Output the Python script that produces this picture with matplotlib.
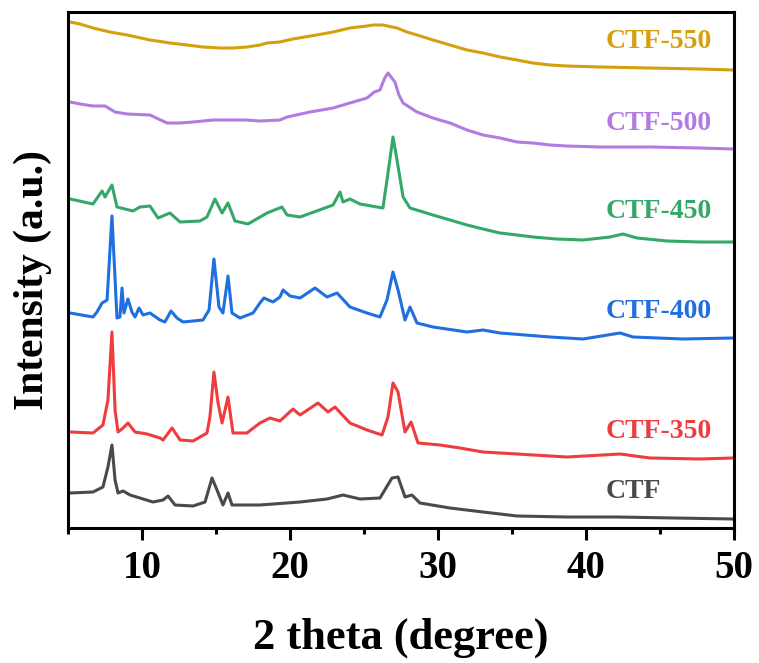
import matplotlib.pyplot as plt
from matplotlib.ticker import MultipleLocator

plt.rcParams["font.family"] = ["Liberation Serif", "DejaVu Serif"]
plt.rcParams["font.weight"] = "bold"

# --------------------------------------------------------------------------- #
# Data: 2theta (deg) and intensity above each baseline
# --------------------------------------------------------------------------- #
ctf_x = [5.14, 6.69, 7.36, 7.70, 7.97, 8.18, 8.38, 8.72, 9.19, 9.86, 10.74, 11.42, 11.76,
         12.23, 13.45, 14.26, 14.73, 15.07, 15.47, 15.81, 16.08, 17.97, 20.68, 22.5, 23.58,
         24.73, 26.08, 26.89, 27.30, 27.77, 28.24, 28.78, 30.81, 33.04, 35.34, 38.72,
         42.09, 46.0, 49.93]
ctf_y = [26, 27, 32, 52, 74, 39, 26, 28, 24, 21, 17, 19, 23,
         14, 13, 17, 41, 29, 14, 26, 14, 14, 17, 20, 24,
         20, 21, 41, 42, 22, 24, 16, 11, 7, 3, 2,
         2, 1, 0]

ctf350_x = [5.14, 6.69, 7.36, 7.70, 7.97, 8.18, 8.38, 8.72, 9.05, 9.53, 10.34, 11.22, 11.42,
            12.03, 12.57, 13.45, 14.39, 14.59, 14.86, 15.14, 15.41, 15.81, 16.15, 17.09,
            17.97, 18.65, 19.32, 20.20, 20.68, 21.89, 22.57, 23.04, 24.05, 25.20, 26.22,
            26.62, 26.96, 27.30, 27.77, 28.18, 28.65, 30.14, 31.49, 33.04, 35.34, 38.72,
            42.30, 44.32, 47.70, 49.93]
ctf350_y = [26, 25, 33, 58, 126, 48, 26, 30, 35, 26, 24, 20, 18,
            30, 18, 17, 25, 41, 86, 55, 35, 61, 25, 25,
            35, 40, 37, 49, 43, 55, 46, 51, 35, 28, 23,
            41, 75, 66, 26, 36, 15, 13, 10, 6, 4, 1,
            4, 0, -1, 0]

ctf400_x = [5.14, 6.69, 6.96, 7.30, 7.64, 7.97, 8.31, 8.51, 8.65, 8.78, 9.05, 9.32, 9.53,
            9.80, 10.07, 10.54, 11.22, 11.55, 11.96, 12.36, 12.77, 14.12, 14.53, 14.86,
            15.20, 15.47, 15.81, 16.08, 16.62, 17.50, 17.97, 18.24, 18.85, 19.32, 19.53,
            20.00, 20.68, 21.69, 22.50, 23.18, 24.05, 25.20, 26.08, 26.55, 26.96, 27.30,
            27.77, 28.11, 28.58, 29.66, 31.96, 33.04, 34.19, 37.57, 39.80, 42.30, 43.18,
            46.55, 49.93]
ctf400_y = [25, 21, 26, 35, 38, 122, 20, 21, 50, 25, 39, 26, 21,
            30, 23, 25, 18, 16, 27, 20, 16, 18, 28, 79,
            31, 25, 62, 25, 20, 25, 35, 40, 36, 41, 48,
            42, 40, 50, 41, 45, 31, 25, 21, 38, 66, 48,
            18, 31, 15, 11, 6, 8, 5, 1, -1, 5, 1,
            -1, 0]

ctf450_x = [5.14, 6.69, 7.30, 7.50, 7.97, 8.31, 9.39, 9.86, 10.54, 11.08, 11.89, 12.57, 13.92,
            14.39, 14.93, 15.41, 15.81, 16.28, 17.16, 18.45, 19.46, 19.80, 20.68, 22.91,
            23.38, 23.58, 24.05, 24.73, 25.88, 26.28, 26.62, 26.96, 27.23, 27.64, 28.11,
            29.66, 30.81, 31.96, 33.04, 34.19, 35.34, 36.42, 38.0, 39.80, 41.62, 42.50,
            43.45, 45.47, 47.70, 49.93]
ctf450_y = [43, 38, 51, 45, 57, 35, 31, 35, 36, 24, 29, 20, 21,
            25, 43, 29, 39, 21, 18, 29, 35, 27, 25, 37,
            50, 40, 43, 38, 35, 34, 69, 105, 82, 45, 34,
            27, 22, 17, 13, 9, 7, 5, 3, 2, 5, 8,
            4, 1, 0, 0]

ctf500_x = [5.14, 5.81, 6.69, 7.50, 8.18, 8.99, 10.54, 11.69, 12.57, 13.45, 14.80, 17.03,
            17.97, 19.32, 19.80, 20.41, 21.35, 22.91, 24.05, 25.20, 25.70, 26.08, 26.40,
            26.62, 27.09, 27.36, 27.64, 28.58, 29.66, 30.81, 31.96, 33.04, 34.20, 35.34,
            36.40, 37.57, 38.70, 40.95, 44.32, 47.70, 49.93]
ctf500_y = [47, 45, 43, 43, 37, 35, 34, 26, 26, 27, 29, 29,
            28, 29, 32, 34, 37, 41, 46, 51, 57, 59, 71,
            76, 67, 54, 46, 37, 31, 26, 19, 14, 11, 7,
            6, 4, 3, 2, 2, 1, 0]

ctf550_x = [5.14, 5.81, 6.69, 7.84, 8.99, 10.54, 11.90, 13.04, 14.10, 15.27, 16.15, 17.10,
            17.97, 18.45, 19.30, 20.20, 21.80, 22.91, 24.05, 25.20, 25.60, 26.28, 26.90,
            27.23, 27.90, 28.58, 29.66, 30.81, 31.96, 33.04, 34.20, 35.34, 36.40, 37.57,
            38.70, 40.95, 44.32, 47.70, 49.93]
ctf550_y = [48, 46, 42, 38, 35, 30, 27, 25, 23, 22, 22, 23,
            25, 27, 28, 31, 35, 38, 42, 44, 45, 45, 43,
            42, 38, 35, 30, 25, 20, 17, 13, 10, 7, 5,
            4, 3, 2, 1, 0]

LABELS  = ["CTF", "CTF-350", "CTF-400", "CTF-450", "CTF-500", "CTF-550"]
SERIES  = [(ctf_x, ctf_y), (ctf350_x, ctf350_y), (ctf400_x, ctf400_y),
           (ctf450_x, ctf450_y), (ctf500_x, ctf500_y), (ctf550_x, ctf550_y)]
OFFSETS = [9, 70, 190, 286, 379, 458]      # stacking offsets (a.u.)
LABEL_Y = [36, 96, 216, 316, 405, 486]     # label heights (a.u.)
COLORS  = ["#4a4a4a", "#ef3d3f", "#1f6fe0", "#35a869", "#b27be0", "#d4a00e"]


fig = plt.figure(figsize=(7.59, 6.63), dpi=100)
ax = fig.add_axes([68 / 759, 1 - 528 / 663, 666 / 759, 516 / 663])

for (x, y), off, lab, ly, c in zip(SERIES, OFFSETS, LABELS, LABEL_Y, COLORS):
    ax.plot(x, [v + off for v in y], color=c, lw=2.2, solid_joinstyle="round")
    ax.text(41.3, ly, lab, color=c, fontsize=20, fontweight="bold",
            ha="left", va="center")

ax.set_xlim(5, 50)
ax.set_ylim(0, 516)
ax.xaxis.set_major_locator(MultipleLocator(10))
ax.xaxis.set_minor_locator(MultipleLocator(5))
ax.set_yticks([])
ax.tick_params(axis="x", which="major", direction="out", length=8.5, width=2.2,
               labelsize=28, pad=7)
ax.tick_params(axis="x", which="minor", direction="out", length=4.5, width=2.2)
for s in ax.spines.values():
    s.set_linewidth(2.2)

ax.set_xlabel("2 theta (degree)", fontsize=32, fontweight="bold", labelpad=22)
ax.set_ylabel("Intensity (a.u.)", fontsize=30, fontweight="bold")
ax.yaxis.set_label_coords(-0.024, 0.48)

fig.savefig("out.png", dpi=100)
